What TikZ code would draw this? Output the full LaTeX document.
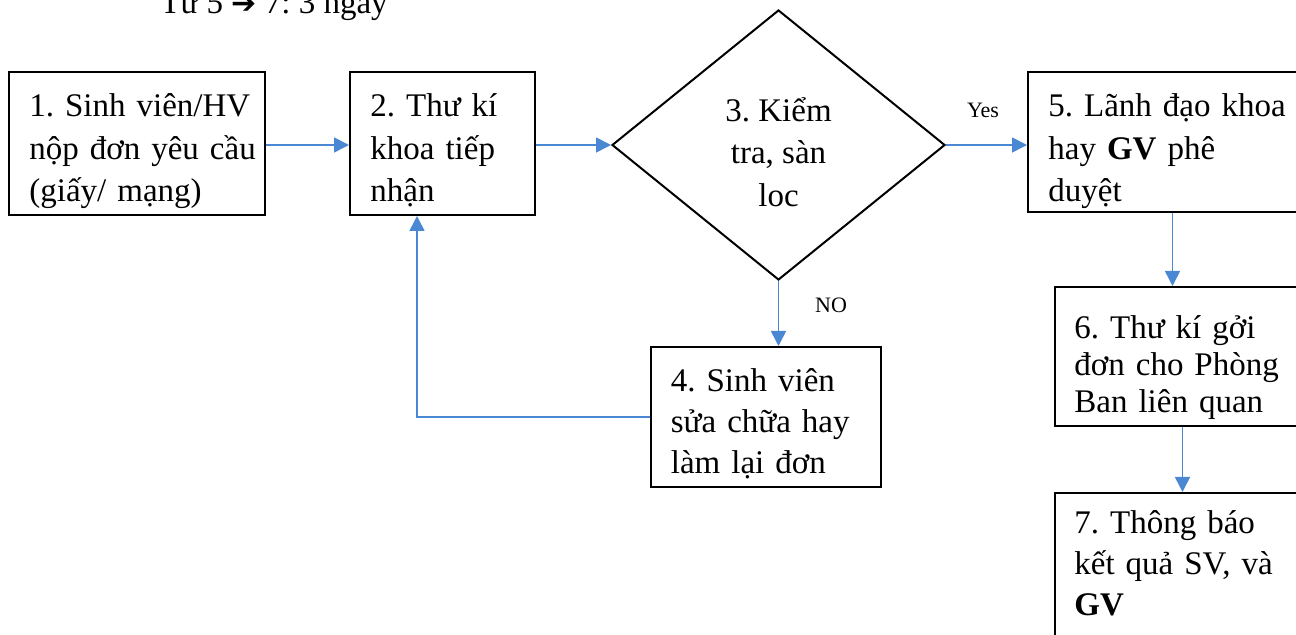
\documentclass[tikz,border=0pt]{standalone}
\usepackage{fontspec}
\setmainfont{Liberation Serif}
\newfontfamily\symfont{DejaVu Sans}
\usetikzlibrary{shapes.geometric,arrows.meta,calc}
\definecolor{flowblue}{RGB}{74,136,212}
\newcommand{\boxfont}{\fontsize{16.5}{21.25}\selectfont\frenchspacing}
\newcommand{\tightfont}{\fontsize{16.5}{18.5}\selectfont\frenchspacing}
\newcommand{\midfont}{\fontsize{16.5}{20.5}\selectfont\frenchspacing}
\tikzset{
  stepbox/.style={draw, line width=1pt, rectangle, inner sep=0pt},
  boxtext/.style={anchor=base west, inner sep=0pt, align=left, font=\boxfont},
  decision/.style={draw, line width=1pt, diamond, inner sep=0pt, minimum width=166.5pt, minimum height=135pt},
  arr/.style={draw=flowblue, line width=0.8pt, -{Triangle[length=7.5pt,width=7.5pt,fill=flowblue]}},
  smalllabel/.style={font=\fontsize{11}{13}\selectfont, inner sep=0pt}
}
\begin{document}
\begin{tikzpicture}[x=0.5pt,y=-0.5pt]
\useasboundingbox (0,0) rectangle (1296,635);
% top note
\node[anchor=base west, inner sep=0pt, font=\boxfont] (note) at (160,14) {Từ 5 {\symfont\fontsize{15}{16}\selectfont ➔} 7: 3 ngày};
% boxes
\node[stepbox, minimum width=128pt, minimum height=71.5pt] (b1) at (137,143.5) {};
\node[stepbox, minimum width=92.5pt, minimum height=71.5pt] (b2) at (442.5,143.5) {};
\node[decision] (d) at (778.5,145) {};
\node[stepbox, minimum width=141pt, minimum height=70pt] (b5) at (1169,142) {};
\node[stepbox, minimum width=127.5pt, minimum height=69.5pt] (b6) at (1182.5,356.5) {};
\node[stepbox, minimum width=127.5pt, minimum height=73.5pt] (b7) at (1182.5,566.5) {};
\node[stepbox, minimum width=115pt, minimum height=70pt] (b4) at (765.5,417) {};
% texts
\node[boxtext, text width=125pt] (t1) at ([xshift=10.5pt,yshift=-23pt]b1.north west) {1. Sinh viên/HV\\nộp đơn yêu cầu\\(giấy/ mạng)};
\node[boxtext, text width=80pt] (t2) at ([xshift=10.5pt,yshift=-23pt]b2.north west) {2. Thư kí\\khoa tiếp\\nhận};
\node[align=center, font=\boxfont, inner sep=0pt] (dt) at (778.5,152) {3. Kiểm\\tra, sàn\\loc};
\node[boxtext, text width=125pt] (t5) at ([xshift=10.5pt,yshift=-23pt]b5.north west) {5. Lãnh đạo khoa\\hay \textbf{GV} phê\\duyệt};
\node[boxtext, font=\tightfont, text width=115pt] (t6) at ([xshift=10pt,yshift=-26.5pt]b6.north west) {6. Thư kí gởi\\đơn cho Phòng\\Ban liên quan};
\node[boxtext, font=\midfont, text width=115pt] (t7) at ([xshift=10pt,yshift=-21pt]b7.north west) {7. Thông báo\\kết quả SV, và\\\textbf{GV}};
\node[boxtext, font=\midfont, text width=100pt] (t4) at ([xshift=10.5pt,yshift=-23pt]b4.north west) {4. Sinh viên\\sửa chữa hay\\làm lại đơn};
% labels
\node[smalllabel] (yes) at (983,110) {Yes};
\node[smalllabel] (no) at (831,305) {NO};
% connectors
\draw[arr] (b1.east |- 0,145) -- (b2.west |- 0,145);
\draw[arr] (b2.east |- d.west) -- (d.west);
\draw[arr] (d.east) -- (d.east -| b5.west);
\draw[arr] (d.south) -- (d.south |- b4.north);
\draw[arr] ([xshift=1.75pt]b5.south) -- ([xshift=1.75pt]b5.south |- b6.north);
\draw[arr] (b6.south) -- (b7.north);
\draw[arr] (b4.west) -| ([xshift=-12.75pt]b2.south);
\end{tikzpicture}
\end{document}
